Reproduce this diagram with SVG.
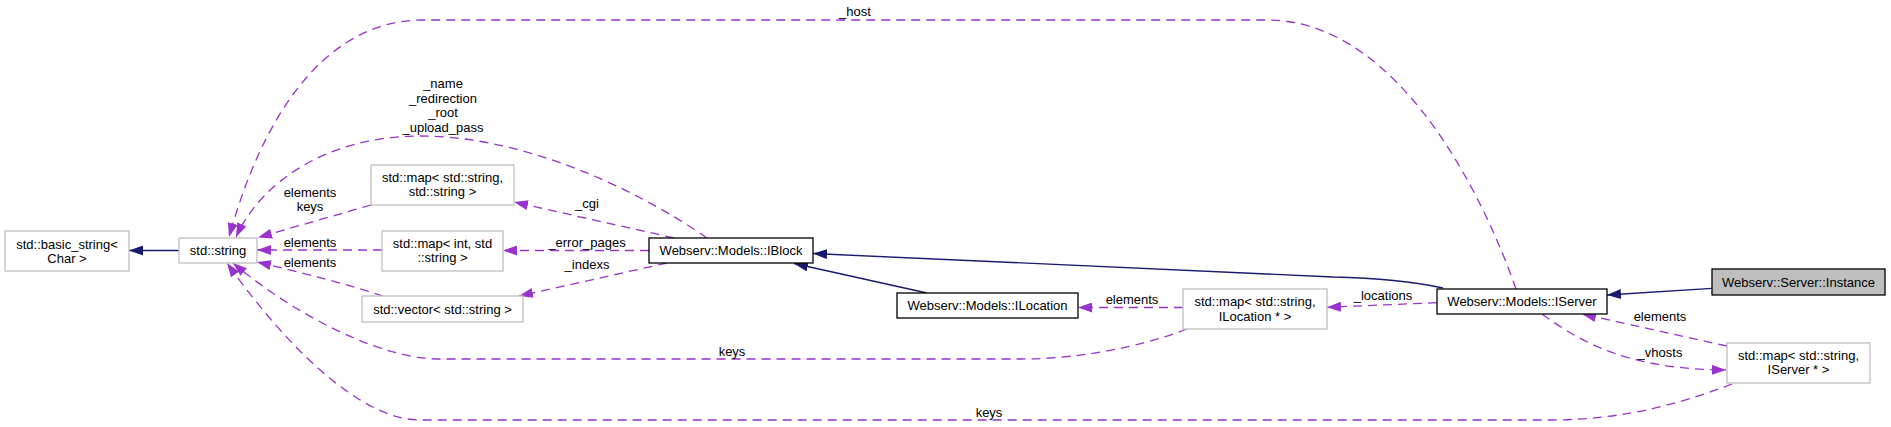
<svg xmlns="http://www.w3.org/2000/svg" width="1891" height="427" viewBox="0 0 1891 427">
<style>
text{font-family:"Liberation Sans",Arial,sans-serif;font-size:13px;fill:#000;text-anchor:middle}
.n rect{fill:#fff;stroke:#bfbfbf;stroke-width:1.3}
.n.d rect{stroke:#000}
.n.cur rect{fill:#bfbfbf;stroke:#000}
.inh{fill:none;stroke:#191970;stroke-width:1.3;marker-end:url(#ai)}
.use{fill:none;stroke:#9a32cd;stroke-width:1.3;stroke-dasharray:9,6;marker-end:url(#au)}
</style>
<defs>
<marker id="ai" markerUnits="userSpaceOnUse" viewBox="0 0 14 10" refX="14" refY="5" markerWidth="14" markerHeight="10" orient="auto">
<path d="M0,0 L14,5 L0,10 z" fill="#191970"/>
</marker>
<marker id="au" markerUnits="userSpaceOnUse" viewBox="0 0 14 10" refX="14" refY="5" markerWidth="14" markerHeight="10" orient="auto">
<path d="M0,0 L14,5 L0,10 z" fill="#9a32cd"/>
</marker>
</defs>
<rect width="1891" height="427" fill="#fff"/>
<g id="edges">
<path class="inh" d="M179,250.5 L129,250.5"/>
<path class="use" d="M707,238 C660,205 540,136 420,136 C330,136 262,180 236,237"/>
<path class="use" d="M1516,289 C1485,200 1400,20 1267,20 L423,20 C340,20 270,90 229,237"/>
<path class="use" d="M371,205 L258,237.5"/>
<path class="use" d="M674,238 L514,202"/>
<path class="use" d="M382,250 L257,250"/>
<path class="use" d="M649,250.5 L503,250.5"/>
<path class="use" d="M383,296 C350,285 300,272 257,262"/>
<path class="use" d="M667,263 L519,296"/>
<path class="inh" d="M927,293 L794,263.5"/>
<path class="inh" d="M1443,288 C1420,283 1380,278 1333,277 L813,253.5"/>
<path class="use" d="M1183,307.5 L1078,307.5"/>
<path class="use" d="M1437,302.7 L1327,307.3"/>
<path class="use" d="M1187,329 C1140,347 1080,359 1020,359 L440,359 C380,359 295,315 233,263"/>
<path class="use" d="M1732,384 C1690,400 1630,420 1550,420 L420,420 C360,420 285,345 227,263"/>
<path class="inh" d="M1712,288.3 L1607,295"/>
<path class="use" d="M1727,346 L1582,314"/>
<path class="use" d="M1542,314 C1585,345 1630,369 1726,370"/>
<text x="443" y="88">_name</text>
<text x="443" y="102.5">_redirection</text>
<text x="443" y="117">_root</text>
<text x="443" y="131.5">_upload_pass</text>
<text x="855" y="16">_host</text>
<text x="310" y="196.5">elements</text>
<text x="310" y="211">keys</text>
<text x="587" y="208">_cgi</text>
<text x="310" y="247">elements</text>
<text x="587" y="247">_error_pages</text>
<text x="310" y="267">elements</text>
<text x="587" y="269">_indexs</text>
<text x="1132" y="303.5">elements</text>
<text x="1383" y="299.5">_locations</text>
<text x="1660" y="321">elements</text>
<text x="1660" y="357">_vhosts</text>
<text x="732" y="356">keys</text>
<text x="989" y="417">keys</text>
</g>
<g id="basic_string" class="n"><rect x="5" y="231" width="124" height="40"/><text x="67" y="248.5">std::basic_string&lt;</text><text x="67" y="262.5">Char &gt;</text></g>
<g id="std_string" class="n"><rect x="179" y="238" width="78" height="25"/><text x="218" y="254.5">std::string</text></g>
<g id="map_ss" class="n"><rect x="371" y="165" width="143" height="40"/><text x="442.5" y="182">std::map&lt; std::string,</text><text x="442.5" y="196">std::string &gt;</text></g>
<g id="map_is" class="n"><rect x="382" y="231" width="121" height="40"/><text x="442.5" y="247.5">std::map&lt; int, std</text><text x="442.5" y="261.5">::string &gt;</text></g>
<g id="vector" class="n"><rect x="362" y="296" width="161" height="26"/><text x="442.5" y="313.5">std::vector&lt; std::string &gt;</text></g>
<g id="IBlock" class="n d"><rect x="649" y="238" width="164" height="25"/><text x="731" y="255">Webserv::Models::IBlock</text></g>
<g id="ILocation" class="n d"><rect x="897" y="293" width="181" height="25"/><text x="987.5" y="310">Webserv::Models::ILocation</text></g>
<g id="map_sl" class="n"><rect x="1183" y="289" width="144" height="40"/><text x="1255" y="306">std::map&lt; std::string,</text><text x="1255" y="320.5">ILocation * &gt;</text></g>
<g id="IServer" class="n d"><rect x="1437" y="289" width="170" height="25"/><text x="1522" y="306">Webserv::Models::IServer</text></g>
<g id="Instance" class="n cur"><rect x="1712" y="269" width="173" height="26"/><text x="1798.5" y="286.5">Webserv::Server::Instance</text></g>
<g id="map_sv" class="n"><rect x="1727" y="343" width="143" height="40"/><text x="1798.5" y="359.5">std::map&lt; std::string,</text><text x="1798.5" y="373.5">IServer * &gt;</text></g>
</svg>
